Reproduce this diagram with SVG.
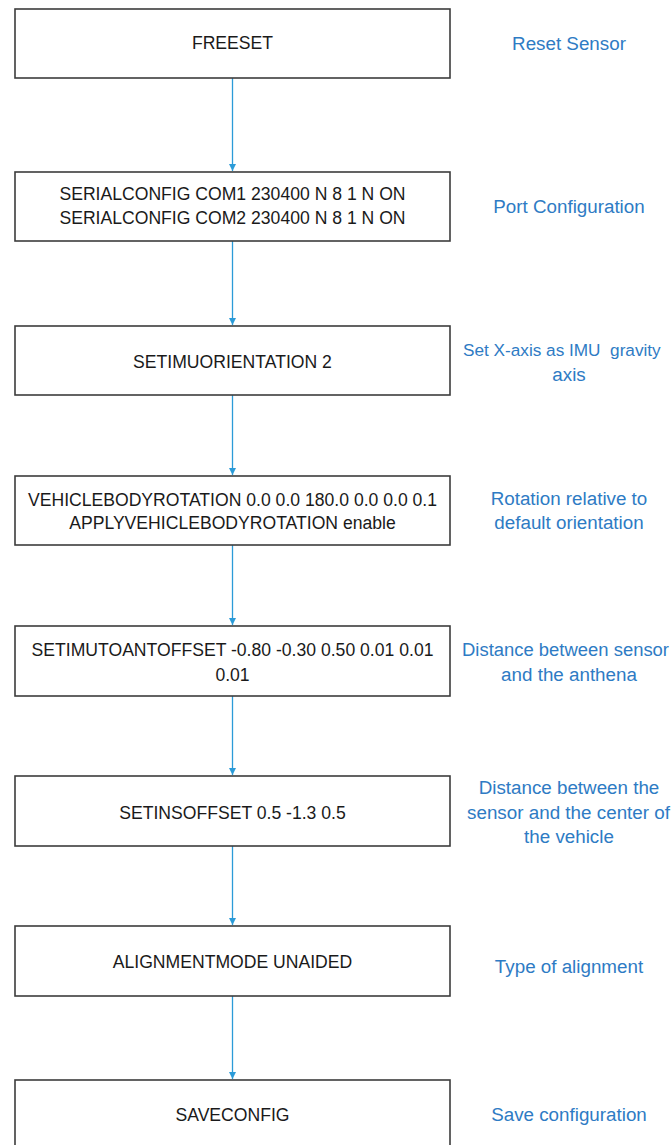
<svg xmlns="http://www.w3.org/2000/svg" width="672" height="1145" viewBox="0 0 672 1145">
<defs>
<style>
.box{fill:#ffffff;stroke:#3c3c3c;stroke-width:1.6}
.t{font-family:"Liberation Sans",Arial,sans-serif;font-size:17.6px;fill:#1a1a1a;text-anchor:middle}
.lbl{font-family:"Liberation Sans",Arial,sans-serif;font-size:18.8px;fill:#2e7bc4;text-anchor:middle;white-space:pre}
.fit{text-anchor:start}
.con{stroke:#2b9bd8;stroke-width:1.3;fill:none}
</style>
<marker id="ah" viewBox="0 0 10 10" refX="10" refY="5" markerWidth="7" markerHeight="8" markerUnits="userSpaceOnUse" orient="auto">
<path d="M0,0 L10,5 L0,10 z" fill="#2b9bd8"/>
</marker>
</defs>
<rect width="672" height="1145" fill="#ffffff"/>
<g id="connectors">
<line class="con" x1="232.5" y1="78" x2="232.5" y2="171" marker-end="url(#ah)"/>
<line class="con" x1="232.5" y1="241" x2="232.5" y2="325" marker-end="url(#ah)"/>
<line class="con" x1="232.5" y1="395" x2="232.5" y2="475" marker-end="url(#ah)"/>
<line class="con" x1="232.5" y1="545" x2="232.5" y2="625" marker-end="url(#ah)"/>
<line class="con" x1="232.5" y1="696" x2="232.5" y2="775" marker-end="url(#ah)"/>
<line class="con" x1="232.5" y1="846" x2="232.5" y2="925" marker-end="url(#ah)"/>
<line class="con" x1="232.5" y1="996" x2="232.5" y2="1079" marker-end="url(#ah)"/>
</g>
<g id="n1">
<rect class="box" x="15" y="9" width="435" height="69"/>
<text class="t" x="232.5" y="49">FREESET</text>
<text class="lbl" x="569" y="50">Reset Sensor</text>
</g>
<g id="n2">
<rect class="box" x="15" y="172" width="435" height="69"/>
<text class="t" x="232.5" y="200">SERIALCONFIG COM1 230400 N 8 1 N ON</text>
<text class="t" x="232.5" y="224">SERIALCONFIG COM2 230400 N 8 1 N ON</text>
<text class="lbl" x="569" y="213">Port Configuration</text>
</g>
<g id="n3">
<rect class="box" x="15" y="326" width="435" height="69"/>
<text class="t" x="232.5" y="368">SETIMUORIENTATION 2</text>
<text class="lbl fit" x="463" y="356" style="font-size:17.2px" xml:space="preserve">Set X-axis as IMU  gravity</text>
<text class="lbl" x="569" y="381">axis</text>
</g>
<g id="n4">
<rect class="box" x="15" y="476" width="435" height="69"/>
<text class="t" x="232.5" y="506">VEHICLEBODYROTATION 0.0 0.0 180.0 0.0 0.0 0.1</text>
<text class="t" x="232.5" y="529">APPLYVEHICLEBODYROTATION enable</text>
<text class="lbl" x="569" y="505">Rotation relative to</text>
<text class="lbl" x="569" y="529">default orientation</text>
</g>
<g id="n5">
<rect class="box" x="15" y="626" width="435" height="70"/>
<text class="t" x="232.5" y="656">SETIMUTOANTOFFSET -0.80 -0.30 0.50 0.01 0.01</text>
<text class="t" x="232.5" y="681">0.01</text>
<text class="lbl fit" x="462" y="656" textLength="207" lengthAdjust="spacingAndGlyphs">Distance between sensor</text>
<text class="lbl" x="569" y="681">and the anthena</text>
</g>
<g id="n6">
<rect class="box" x="15" y="776" width="435" height="70"/>
<text class="t" x="232.5" y="819">SETINSOFFSET 0.5 -1.3 0.5</text>
<text class="lbl" x="569" y="794">Distance between the</text>
<text class="lbl fit" x="467" y="819" textLength="203" lengthAdjust="spacingAndGlyphs">sensor and the center of</text>
<text class="lbl" x="569" y="843">the vehicle</text>
</g>
<g id="n7">
<rect class="box" x="15" y="926" width="435" height="70"/>
<text class="t" x="232.5" y="968">ALIGNMENTMODE UNAIDED</text>
<text class="lbl" x="569" y="973">Type of alignment</text>
</g>
<g id="n8">
<rect class="box" x="15" y="1080" width="435" height="80"/>
<text class="t" x="232.5" y="1121">SAVECONFIG</text>
<text class="lbl" x="569" y="1121">Save configuration</text>
</g>
</svg>
